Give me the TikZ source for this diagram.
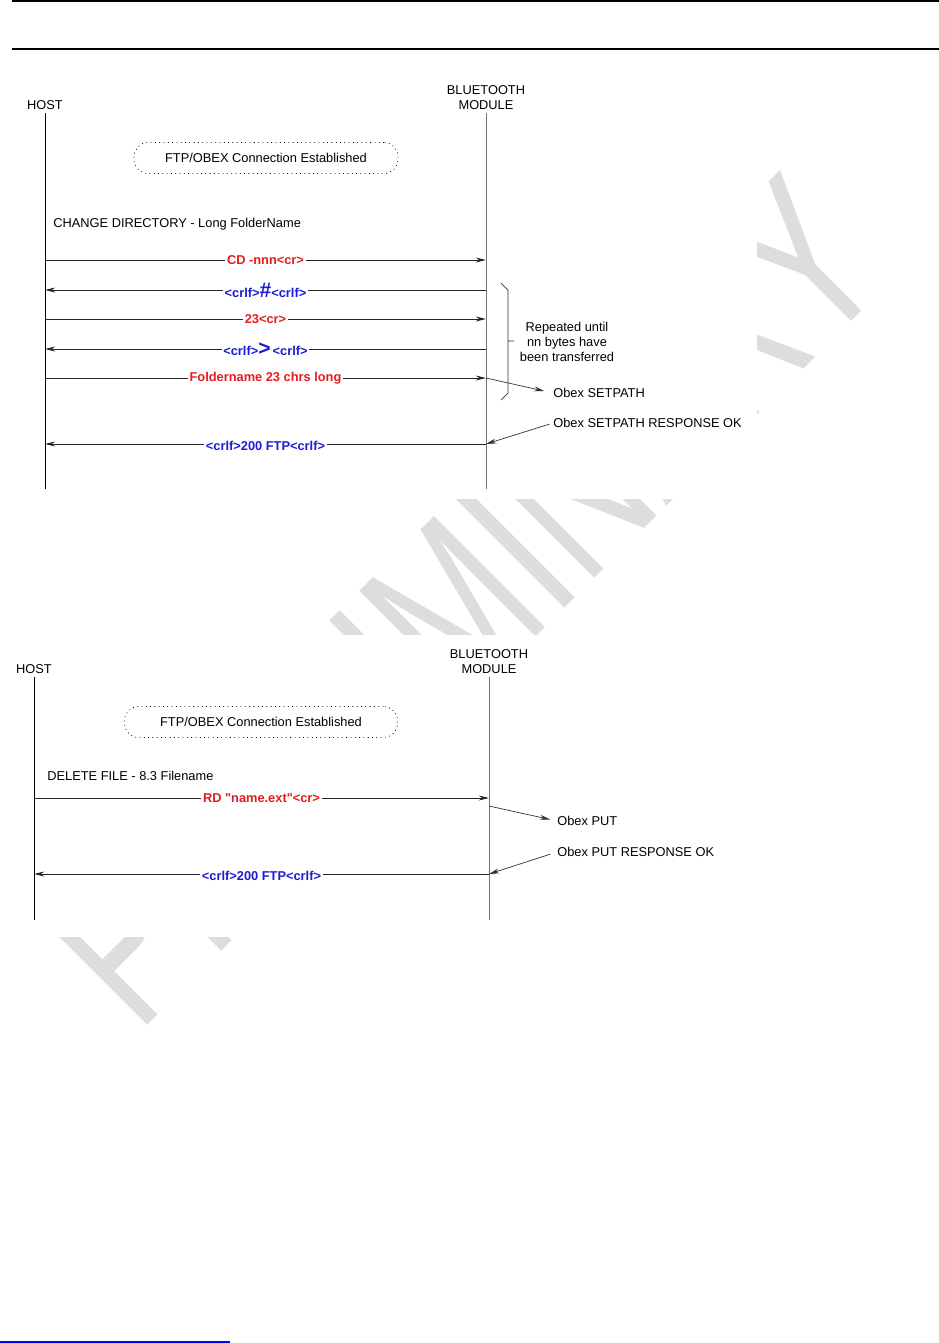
\documentclass[tikz,border=0pt]{standalone}
\usepackage{fontspec}
\setmainfont{Liberation Sans}[Ligatures=TeXOff]
\usepackage{xcolor}
\usetikzlibrary{arrows.meta,positioning,calc}

\definecolor{msgred}{RGB}{228,28,28}
\definecolor{msgblue}{RGB}{28,28,214}
\definecolor{wmgray}{RGB}{221,221,221}

\begin{document}
\begin{tikzpicture}[x=0.02cm, y=-0.02cm, >={Stealth[length=5.8pt,width=2.8pt]},
  txt/.style={font=\fontsize{7.3}{8.5}\selectfont, inner sep=0pt},
  party/.style={txt, align=center},
  life/.style={line width=0.55pt},
  msg/.style={->, line width=0.55pt, black!85},
  note/.style={->, line width=0.4pt, black!80},
  lbl/.style={font=\fontsize{7.3}{8.5}\selectfont\bfseries, fill=white, inner xsep=1pt, inner ysep=0.5pt},
  redlbl/.style={lbl, text=msgred},
  bluelbl/.style={lbl, text=msgblue},
  conn/.style={txt, draw, dotted, line width=0.45pt, rounded corners=8pt, minimum height=0.62cm}]

  \useasboundingbox (0,0) rectangle (939,1343);

  % watermark, hidden by the two white figure areas
  \node[text=wmgray, rotate=45, anchor=base west, inner sep=0pt] (wm) at (138,1035)
    {\scalebox{0.692}[1]{\fontsize{130}{130}\selectfont PRELIMINARY}};
  \fill[white] (0,60) rectangle (757,499);
  \fill[white] (0,635) rectangle (760,937);

  % page rules
  \draw[line width=0.75pt] (12,1) -- (939,1);
  \draw[line width=0.75pt] (12,49) -- (939,49);
  \draw[blue, line width=0.6pt] (0,1342) -- (230,1342);

  % change directory
  \node[party] (host1) at (45,105) {HOST};
  \node[party] (bt1) at (486,98) {BLUETOOTH\\MODULE};
  \coordinate (h1end) at (45,489);
  \coordinate (b1end) at (486,489);
  \draw[life] (45,113) -- (h1end);
  \draw[life, black!55] (486,113) -- (b1end);

  \node[conn, minimum width=5.28cm] (est1) at (266,158) {FTP/OBEX Connection Established};
  \node[txt, anchor=west] (cd1) at (53,224) {CHANGE DIRECTORY - Long FolderName};

  \foreach \n/\y in {a/260, b/290, c/319, d/349, e/378, f/444}{
    \coordinate (h\n) at (45,\y);
    \coordinate (m\n) at (486,\y);
  }
  \draw[msg] (ha) -- node[redlbl] {CD -nnn<cr>} (ma);
  \draw[msg] (mb) -- node[bluelbl] {<crlf>{\fontsize{12}{12}\selectfont\#}<crlf>} (hb);
  \draw[msg] (hc) -- node[redlbl] {23<cr>} (mc);
  \draw[msg] (md) -- node[bluelbl] {<crlf>{\fontsize{12}{12}\selectfont>}\,<crlf>} (hd);
  \draw[msg] (he) -- node[redlbl] {Foldername 23 chrs long} (me);
  \draw[msg] (mf) -- node[bluelbl, yshift=-1pt] {<crlf>200 FTP<crlf>} (hf);

  \draw[line width=0.4pt, black!80] (501,283) -- (508,290) -- (508,393) -- (501,400)
    (508,341) -- (514,341);
  \node[party] (rep) at (567,342) {Repeated until\\nn bytes have\\been transferred};

  \node[txt, anchor=west] (setp) at (553,393) {Obex SETPATH};
  \node[txt, anchor=west] (setpok) at (553,423) {Obex SETPATH RESPONSE OK};
  \draw[note, shorten >=5pt] (me) -- (setp.west);
  \draw[note, shorten <=2pt] (setpok.west) -- (mf);

  % delete file
  \node[party] (host2) at (34,669) {HOST};
  \node[party] (bt2) at (489,662) {BLUETOOTH\\MODULE};
  \coordinate (h2end) at (34,920);
  \coordinate (b2end) at (489,920);
  \draw[life] (34,677) -- (h2end);
  \draw[life, black!55] (489,677) -- (b2end);

  \node[conn, minimum width=5.46cm] (est2) at (261,722) {FTP/OBEX Connection Established};
  \node[txt, anchor=west] (rd2) at (47,776) {DELETE FILE - 8.3 Filename};

  \foreach \n/\y in {g/798, h/874}{
    \coordinate (h\n) at (34,\y);
    \coordinate (m\n) at (489,\y);
  }
  \coordinate (mput) at (489,806);
  \draw[msg] (hg) -- node[redlbl] {RD "name.ext"<cr>} (mg);
  \draw[msg] (mh) -- node[bluelbl, yshift=-1pt] {<crlf>200 FTP<crlf>} (hh);

  \node[txt, anchor=west] (put) at (557,821) {Obex PUT};
  \node[txt, anchor=west] (putok) at (557,852) {Obex PUT RESPONSE OK};
  \draw[note, shorten >=4pt] (mput) -- (put.west);
  \draw[note, shorten <=4pt] (putok.west) -- (mh);
\end{tikzpicture}
\end{document}
